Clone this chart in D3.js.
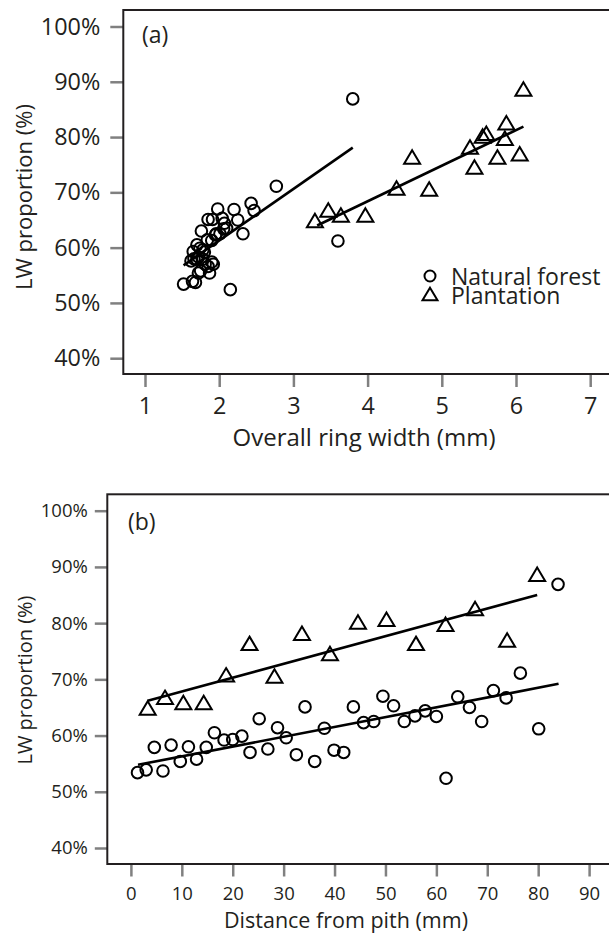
<!DOCTYPE html>
<html>
<head>
<meta charset="utf-8">
<script src="https://cdn.jsdelivr.net/npm/d3@7/dist/d3.min.js"></script>
<style>
  body { margin: 0; background: #fff; }
  text { font-family: "Open Sans", sans-serif; fill: #231f20; }
</style>
</head>
<body>
<div id="chart"></div>
<script>
// values
let yTicks = [40, 50, 60, 70, 80, 90, 100];
let xTicksA = [1, 2, 3, 4, 5, 6, 7];
let xTicksB = [0, 10, 20, 30, 40, 50, 60, 70, 80, 90];

// natural forest: distance from pith (mm), overall ring width (mm), LW proportion (%)
let natDist = [1.3, 3.0, 4.6, 6.3, 7.9, 9.7, 11.3, 12.9, 14.8, 16.4, 18.3, 20.0, 21.8, 23.4,
  25.2, 26.9, 28.8, 30.5, 32.5, 34.2, 36.1, 38.0, 39.9, 41.8, 43.7, 45.7, 47.7, 49.5,
  51.6, 53.7, 55.8, 57.8, 60.0, 61.9, 64.2, 66.5, 68.9, 71.2, 73.7, 76.5, 80.1, 83.9];
let natRing = [1.52, 1.64, 1.70, 1.68, 1.72, 1.87, 1.66, 1.75, 1.78, 1.70, 1.80, 1.65, 1.74, 1.92,
  1.76, 1.62, 1.84, 1.78, 1.85, 1.85, 1.72, 1.90, 1.90, 1.81, 1.91, 1.95, 2.01, 1.98,
  2.04, 2.32, 2.10, 2.07, 2.06, 2.15, 2.20, 2.25, 1.96, 2.43, 2.47, 2.77, 3.60, 3.80];
let natLW = [53.4, 53.9, 57.9, 53.7, 58.3, 55.4, 58.0, 55.8, 57.9, 60.5, 59.2, 59.3, 59.9, 57.0,
  63.0, 57.6, 61.4, 59.6, 56.6, 65.1, 55.4, 61.3, 57.4, 57.0, 65.1, 62.3, 62.5, 67.0,
  65.3, 62.5, 63.5, 64.4, 63.4, 52.4, 66.9, 65.0, 62.5, 68.0, 66.7, 71.1, 61.2, 86.9];

// plantation
let plantDist = [3.3, 6.7, 10.3, 14.3, 18.7, 23.3, 28.2, 33.6, 39.1, 44.6, 50.2, 56.0, 61.8, 67.6, 73.9, 79.8];
let plantRing = [3.29, 3.47, 3.64, 3.97, 4.39, 4.60, 4.83, 5.38, 5.44, 5.55, 5.60, 5.75, 5.85, 5.87, 6.05, 6.10];
let plantLW = [64.9, 66.8, 65.9, 65.9, 70.8, 76.4, 70.6, 78.2, 74.6, 80.2, 80.7, 76.4, 79.8, 82.6, 77.0, 88.7];

// fitted lines (end points as drawn)
let natFitAx = [1.52, 3.80], natFitAy = [56.8, 78.1];
let plantFitAx = [3.32, 6.10], plantFitAy = [64.0, 81.9];
let natFitBx = [1.4, 84.0], natFitBy = [54.8, 69.2];
let plantFitBx = [3.3, 79.8], plantFitBy = [66.2, 85.0];

let legendLabels = ["Natural forest", "Plantation"];

/********************************************/

let svg = d3.select("#chart")
  .append("svg")
  .attr("width", 609)
  .attr("height", 937);

let tickGray = "#808080";
let ink = "#231f20";

function triPath(w, h) {
  return `M0,${-h / 2}L${w / 2},${h / 2}L${-w / 2},${h / 2}Z`;
}

function drawPanel(p) {
  let xScale = d3.scaleLinear().domain(p.xDomain).range(p.xRange);
  let yScale = d3.scaleLinear().domain([40, 100]).range(p.yRange);

  let g = svg.append("g");

  // y axis
  let yAxis = d3.axisLeft(yScale)
    .tickValues(yTicks)
    .tickFormat(d => d + "%")
    .tickSize(p.tickLen)
    .tickPadding(p.yPad);
  let ya = g.append("g")
    .attr("transform", `translate(${p.left}, 0)`)
    .call(yAxis);
  ya.select(".domain").remove();
  ya.selectAll(".tick line").attr("stroke", tickGray).attr("stroke-width", 2.5);
  ya.selectAll(".tick text")
    .attr("fill", ink)
    .style("font-family", "'Open Sans', sans-serif")
    .style("font-size", p.yTickFont + "px");

  // x axis
  let xAxis = d3.axisBottom(xScale)
    .tickValues(p.xTicks)
    .tickFormat(d3.format("d"))
    .tickSize(p.tickLen)
    .tickPadding(p.xPad);
  let xa = g.append("g")
    .attr("transform", `translate(0, ${p.bottom})`)
    .call(xAxis);
  xa.select(".domain").remove();
  xa.selectAll(".tick line").attr("stroke", tickGray).attr("stroke-width", 2.5);
  xa.selectAll(".tick text")
    .attr("fill", ink)
    .style("font-family", "'Open Sans', sans-serif")
    .style("font-size", p.xTickFont + "px");

  // frame
  g.append("rect")
    .attr("x", p.left)
    .attr("y", p.top)
    .attr("width", 612 - p.left)
    .attr("height", p.bottom - p.top)
    .attr("fill", "none")
    .attr("stroke", ink)
    .attr("stroke-width", 2);

  // titles
  g.append("text")
    .attr("x", p.xTitleX)
    .attr("y", p.xTitleY)
    .attr("text-anchor", "middle")
    .style("font-size", p.titleFont + "px")
    .text(p.xTitle);

  g.append("text")
    .attr("transform", `translate(${p.yTitleX}, ${p.yTitleY}) rotate(-90)`)
    .attr("text-anchor", "middle")
    .style("font-size", p.yTitleFont + "px")
    .text("LW proportion (%)");

  g.append("text")
    .attr("x", p.tagX)
    .attr("y", p.tagY)
    .style("font-size", "23px")
    .text(p.tag);

  // fit lines
  let line = d3.line().x(d => xScale(d[0])).y(d => yScale(d[1]));
  p.fits.forEach(f => {
    g.append("path")
      .attr("d", line(d3.zip(f[0], f[1])))
      .attr("fill", "none")
      .attr("stroke", "#000")
      .attr("stroke-width", 2.6);
  });

  // natural forest circles
  g.selectAll(".nat")
    .data(d3.zip(p.natX, natLW))
    .enter()
    .append("circle")
    .attr("class", "nat")
    .attr("cx", d => xScale(d[0]))
    .attr("cy", d => yScale(d[1]))
    .attr("r", 5.8)
    .attr("fill", "none")
    .attr("stroke", "#000")
    .attr("stroke-width", 2);

  // plantation triangles
  g.selectAll(".plant")
    .data(d3.zip(p.plantX, plantLW))
    .enter()
    .append("path")
    .attr("class", "plant")
    .attr("d", triPath(16, 13.5))
    .attr("transform", d => `translate(${xScale(d[0])}, ${yScale(d[1])})`)
    .attr("fill", "none")
    .attr("stroke", "#000")
    .attr("stroke-width", 2)
    .attr("stroke-linejoin", "miter");

  return g;
}

/********************************************/

let gA = drawPanel({
  left: 123.3, top: 10, bottom: 374,
  xDomain: [1, 7], xRange: [145, 590.2], yRange: [358.2, 26.5],
  xTicks: xTicksA, tickLen: 13, yPad: 10, xPad: 10,
  yTickFont: 23.4, xTickFont: 23.4,
  xTitle: "Overall ring width (mm)", xTitleX: 364, xTitleY: 446, titleFont: 24,
  yTitleX: 32, yTitleY: 197, yTitleFont: 22,
  tag: "(a)", tagX: 142, tagY: 43,
  natX: natRing, plantX: plantRing,
  fits: [[natFitAx, natFitAy], [plantFitAx, plantFitAy]]
});

// legend
let legend = gA.append("g");
legend.append("circle")
  .attr("cx", 430).attr("cy", 276).attr("r", 5.5)
  .attr("fill", "none").attr("stroke", "#000").attr("stroke-width", 2);
legend.append("path")
  .attr("d", triPath(15, 12.5))
  .attr("transform", "translate(430, 294)")
  .attr("fill", "none").attr("stroke", "#000").attr("stroke-width", 2);
legend.selectAll(".lt")
  .data(legendLabels)
  .enter()
  .append("text")
  .attr("x", 451)
  .attr("y", (d, i) => 285 + i * 19)
  .style("font-size", "23px")
  .text(d => d);

drawPanel({
  left: 107.3, top: 494.3, bottom: 864,
  xDomain: [0, 90], xRange: [130.9, 589.1], yRange: [848, 510.7],
  xTicks: xTicksB, tickLen: 12.5, yPad: 7, xPad: 10,
  yTickFont: 18.5, xTickFont: 18.5,
  xTitle: "Distance from pith (mm)", xTitleX: 346, xTitleY: 928, titleFont: 21.5,
  yTitleX: 32, yTitleY: 680, yTitleFont: 20,
  tag: "(b)", tagX: 128, tagY: 530,
  natX: natDist, plantX: plantDist,
  fits: [[natFitBx, natFitBy], [plantFitBx, plantFitBy]]
});
</script>
</body>
</html>
